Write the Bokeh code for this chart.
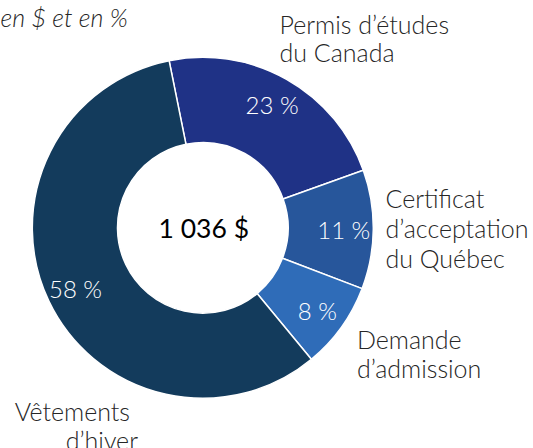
import math
from bokeh.plotting import figure
from bokeh.models import Range1d, ColumnDataSource
from bokeh.core.properties import value
from bokeh.embed import file_html
from bokeh.resources import INLINE

# ---- data ----
categories = ["Permis d\u2019\u00e9tudes du Canada",
              "Certificat d\u2019acceptation du Qu\u00e9bec",
              "Demande d\u2019admission",
              "V\u00eatements d\u2019hiver"]
amounts = [235, 117, 85, 599]          # $
colors = ["#1F3286", "#27569B", "#2F6CB8", "#133B5C"]
title_text = "en $ et en %"

# outer label lines (one list per category)
label_lines = [["Permis d\u2019\u00e9tudes", "du Canada"],
               ["Certificat", "d\u2019acceptation", "du Qu\u00e9bec"],
               ["Demande", "d\u2019admission"],
               ["V\u00eatements", "d\u2019hiver"]]

# ---- layout (pixels) ----
W, H = 533, 448
def py(y):  # page y (down) -> plot y (up)
    return H - y

cx, cy = 202.3, py(227.3)
R_OUT, R_IN = 170.5, 85.3
R_LBL = 141.0
START = -11.4  # degrees clockwise from top

FONT = "Lato Light"
TXT = "#262626"

p = figure(width=W, height=H, output_backend="svg", toolbar_location=None,
           x_range=Range1d(0, W), y_range=Range1d(0, H),
           x_axis_type=None, y_axis_type=None, min_border=0,
           outline_line_color=None)
p.grid.visible = False
p.background_fill_color = "white"
p.border_fill_color = "white"

total = sum(amounts)
starts, ends, lx, ly, pct = [], [], [], [], []
acc = START
for v in amounts:
    span = v / total * 360.0
    a1, a2 = acc, acc + span          # clockwise from top
    starts.append(math.radians(90 - a2))
    ends.append(math.radians(90 - a1))
    mid = math.radians((a1 + a2) / 2)
    lx.append(cx + R_LBL * math.sin(mid))
    ly.append(cy + R_LBL * math.cos(mid))
    pct.append(f"{round(v / total * 100)} %")
    acc = a2

src = ColumnDataSource(dict(start=starts, end=ends, color=colors,
                            lx=lx, ly=ly, pct=pct))
p.annular_wedge(x=cx, y=cy, inner_radius=R_IN, outer_radius=R_OUT,
                start_angle="start", end_angle="end", direction="anticlock",
                fill_color="color", line_color="white", line_width=1.5,
                source=src)

p.text(x="lx", y="ly", text="pct", source=src, text_color="white",
       text_font=value(FONT), text_font_size="24px",
       text_align="center", text_baseline="middle")

# centre total
tot_txt = f"{total:,}".replace(",", " ") + " $"
p.text(x=[cx + 1], y=[cy], text=[tot_txt], text_color="black",
       text_font=value("Lato"), text_font_size="26.5px",
       text_align="center", text_baseline="middle")

# outer category labels: (x, first line middle y, line spacing, align)
anchors = [(279.0, 23.0, 28.8, "left"),
           (385.0, 197.0, 30.0, "left"),
           (356.5, 338.5, 29.0, "left"),
           (None, 410.5, 28.5, "right")]
for lines, (ax, ay, dy, al) in zip(label_lines, anchors):
    for i, line in enumerate(lines):
        if al == "right":
            xs = [129.5, 137.5][i]
        else:
            xs = ax
        p.text(x=[xs], y=[py(ay + i * dy)], text=[line], text_color=TXT,
               text_font=value(FONT), text_font_size="25px",
               text_align=al, text_baseline="middle")

# truncated title
p.text(x=[0], y=[py(16)], text=[title_text], text_color=TXT,
       text_font=value(FONT), text_font_style="italic", text_font_size="25px",
       text_align="left", text_baseline="middle")

open("out.html", "w").write(file_html(p, INLINE))
